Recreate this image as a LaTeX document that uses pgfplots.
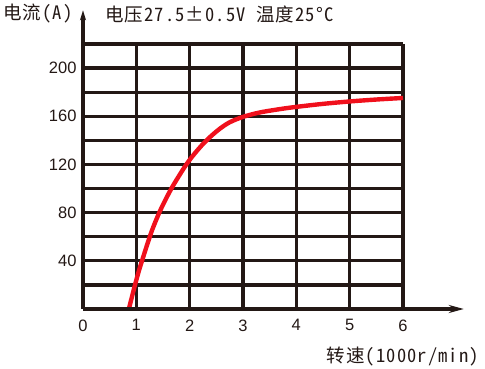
\documentclass[border=0pt]{standalone}
\usepackage{fontspec}
\setmainfont{Liberation Sans}
\newfontfamily\cjk[RawFeature=+hwid, LetterSpace=6]{Noto Sans CJK SC}
\usepackage{pgfplots}
\pgfplotsset{compat=1.18}
\usetikzlibrary{arrows.meta}
\definecolor{gridc}{HTML}{231815}
\definecolor{curvec}{HTML}{F0101C}
\begin{document}
\begin{tikzpicture}[x=1pt,y=1pt]
\useasboundingbox (0,0) rectangle (485,369);
\begin{axis}[
  at={(83pt,60pt)}, anchor=south west,
  scale only axis, width=320pt, height=265pt,
  xmin=0, xmax=6, ymin=0, ymax=220,
  axis line style={draw=none},
  xtick={0,...,6},
  ytick={20,40,...,220},
  yticklabels={,40,,80,,120,,160,,200,},
  grid=major,
  major grid style={gridc, line width=3.2pt},
  tick style={draw=none},
  ticklabel style={font=\fontsize{16.5}{16.5}\selectfont, text=gridc},
  /pgf/number format/assume math mode=true,
  xticklabel style={yshift=-7pt},
  yticklabel style={xshift=-3pt},
  clip=false,
]
\addplot[curvec, line width=4.4pt, smooth] coordinates {
 (0.86,0) (0.92,10.5) (0.975,20) (1.05,32) (1.11,40.5) (1.2,53) (1.3,66) (1.43,80) (1.55,91) (1.67,101) (1.8,110.5) (1.9,117.5) (2.0,123.8) (2.1,129.4) (2.25,137) (2.4,143.5) (2.57,149.8) (2.75,155) (3.0,159.5) (3.32,163.2) (3.7,166) (4.0,167.8) (4.5,170.3) (5.0,172.3) (5.5,173.9) (6.0,175.2)
};
\draw[gridc, line width=3.2pt, -{Stealth[length=15pt,width=8pt]}] (axis cs:0,0) -- (axis cs:7.14,0);
\draw[gridc, line width=3.2pt, -{Stealth[length=10pt,width=6pt]}] (axis cs:0,0) -- (axis cs:0,248);
\end{axis}
\node[anchor=west, font=\cjk\fontsize{18.5}{18.5}\selectfont, text=gridc, inner sep=0pt] at (3,355) {电流(A)};
\node[anchor=west, font=\cjk\fontsize{18.5}{18.5}\selectfont, text=gridc, inner sep=0pt] at (105,355) {电压27.5±0.5V 温度25°C};
\node[anchor=east, font=\cjk\fontsize{18.5}{18.5}\selectfont, text=gridc, inner sep=0pt] at (479,12) {转速(1000r/min)};
\end{tikzpicture}
\end{document}
